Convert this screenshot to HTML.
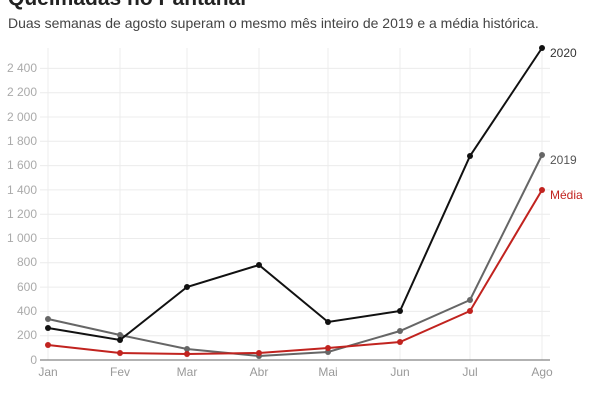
<!DOCTYPE html><html><head><meta charset="utf-8"><style>body{margin:0;background:#fff;width:600px;height:400px;overflow:hidden;font-family:"Liberation Sans",sans-serif}</style></head><body>
<svg width="600" height="400" xmlns="http://www.w3.org/2000/svg" font-family="Liberation Sans, sans-serif">
<text x="8" y="5" font-size="21" font-weight="bold" fill="#222">Queimadas no Pantanal</text>
<text x="8" y="28" font-size="14" fill="#444">Duas semanas de agosto superam o mesmo mês inteiro de 2019 e a média histórica.</text>
<g stroke="#ececec" stroke-width="1">
<line x1="48" y1="48" x2="48" y2="360"/><line x1="120" y1="48" x2="120" y2="360"/><line x1="187" y1="48" x2="187" y2="360"/><line x1="259" y1="48" x2="259" y2="360"/><line x1="328" y1="48" x2="328" y2="360"/><line x1="400" y1="48" x2="400" y2="360"/><line x1="470" y1="48" x2="470" y2="360"/><line x1="542" y1="48" x2="542" y2="360"/>
<line x1="40" y1="68.4" x2="550" y2="68.4"/><line x1="40" y1="92.7" x2="550" y2="92.7"/><line x1="40" y1="117" x2="550" y2="117"/><line x1="40" y1="141.3" x2="550" y2="141.3"/><line x1="40" y1="165.6" x2="550" y2="165.6"/><line x1="40" y1="189.9" x2="550" y2="189.9"/><line x1="40" y1="214.2" x2="550" y2="214.2"/><line x1="40" y1="238.5" x2="550" y2="238.5"/><line x1="40" y1="262.8" x2="550" y2="262.8"/><line x1="40" y1="287.1" x2="550" y2="287.1"/><line x1="40" y1="311.4" x2="550" y2="311.4"/><line x1="40" y1="335.7" x2="550" y2="335.7"/>
</g>
<line x1="40" y1="360" x2="550" y2="360" stroke="#666" stroke-width="1"/>
<g font-size="12" fill="#aaa" text-anchor="end">
<text x="37" y="72">2 400</text><text x="37" y="96">2 200</text><text x="37" y="121">2 000</text><text x="37" y="145">1 800</text><text x="37" y="169">1 600</text><text x="37" y="194">1 400</text><text x="37" y="218">1 200</text><text x="37" y="242">1 000</text><text x="37" y="266">800</text><text x="37" y="291">600</text><text x="37" y="315">400</text><text x="37" y="339">200</text><text x="37" y="364">0</text>
</g>
<g font-size="12" fill="#999" text-anchor="middle">
<text x="48" y="376">Jan</text><text x="120" y="376">Fev</text><text x="187" y="376">Mar</text><text x="259" y="376">Abr</text><text x="328" y="376">Mai</text><text x="400" y="376">Jun</text><text x="470" y="376">Jul</text><text x="542" y="376">Ago</text>
</g>
<g fill="none" stroke-width="2">
<polyline stroke="#666" points="48,319 120,335 187,349 259,356 328,352 400,331 470,300 542,155"/>
<polyline stroke="#c1231f" points="48,345 120,353 187,354 259,353 328,348 400,342 470,311 542,190"/>
<polyline stroke="#111" points="48,328 120,340 187,287 259,265 328,322 400,311 470,156 542,48"/>
</g>
<g fill="#666"><circle cx="48" cy="319" r="3"/><circle cx="120" cy="335" r="3"/><circle cx="187" cy="349" r="3"/><circle cx="259" cy="356" r="3"/><circle cx="328" cy="352" r="3"/><circle cx="400" cy="331" r="3"/><circle cx="470" cy="300" r="3"/><circle cx="542" cy="155" r="3"/></g>
<g fill="#c1231f"><circle cx="48" cy="345" r="3"/><circle cx="120" cy="353" r="3"/><circle cx="187" cy="354" r="3"/><circle cx="259" cy="353" r="3"/><circle cx="328" cy="348" r="3"/><circle cx="400" cy="342" r="3"/><circle cx="470" cy="311" r="3"/><circle cx="542" cy="190" r="3"/></g>
<g fill="#111"><circle cx="48" cy="328" r="3"/><circle cx="120" cy="340" r="3"/><circle cx="187" cy="287" r="3"/><circle cx="259" cy="265" r="3"/><circle cx="328" cy="322" r="3"/><circle cx="400" cy="311" r="3"/><circle cx="470" cy="156" r="3"/><circle cx="542" cy="48" r="3"/></g>
<text x="550" y="57" font-size="12" fill="#333">2020</text>
<text x="550" y="164" font-size="12" fill="#555">2019</text>
<text x="550" y="199" font-size="12" fill="#c1231f">Média</text>
</svg>
</body></html>
